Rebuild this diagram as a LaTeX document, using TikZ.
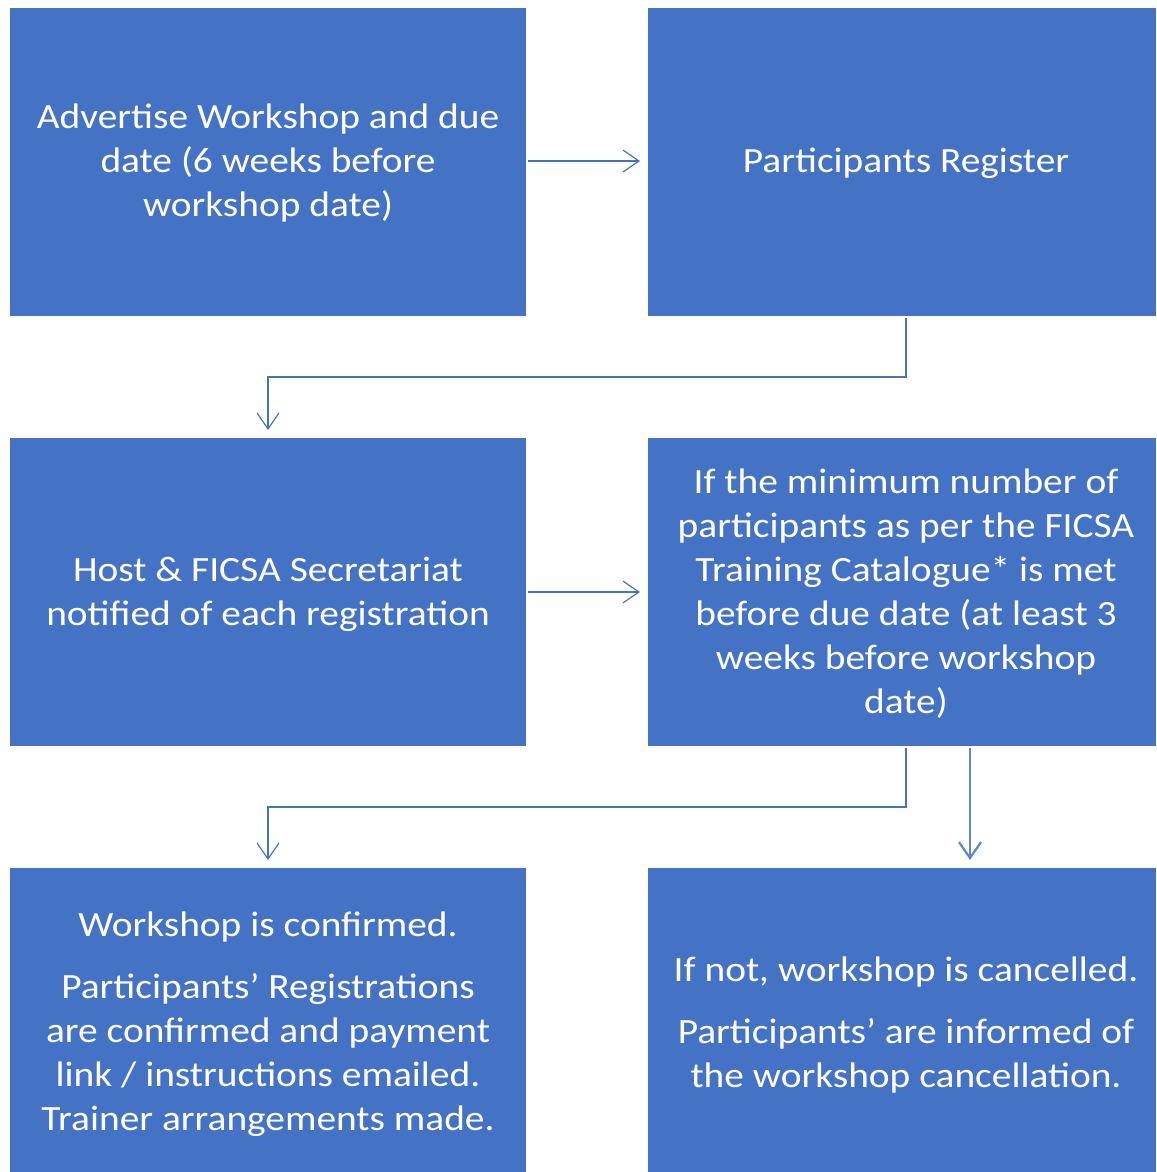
\documentclass[tikz,border=0pt]{standalone}
\usepackage{fontspec}
\setmainfont{Carlito}[FakeStretch=1.11]
\usetikzlibrary{arrows.meta}
\definecolor{boxblue}{HTML}{4472C4}
\tikzset{
  flowbox/.style={fill=boxblue, draw=none, text=white, align=center,
    font=\fontsize{35.5}{44}\selectfont, inner sep=0pt},
  link/.style={draw=boxblue, line width=1.2pt,
    -{Straight Barb[length=16pt,width=22pt,line width=1.2pt]}},
  thicklink/.style={draw=boxblue!85, line width=2.2pt,
    -{Straight Barb[length=16pt,width=22pt,line width=2.2pt]}},
}
\begin{document}
\begin{tikzpicture}[x=1pt,y=-1pt]
\useasboundingbox (0,0) rectangle (1156,1172);
% boxes
\fill[boxblue] (10,8) rectangle (526,316);
\node[flowbox] (b1) at (268,163) {Advertise Workshop and due\\date (6 weeks before\\workshop date)};
\fill[boxblue] (648,8) rectangle (1156,316);
\node[flowbox] (b2) at (906,163) {Participants Register};
\fill[boxblue] (10,438) rectangle (526,746);
\node[flowbox] (b3) at (268,594) {Host \& FICSA Secretariat\\notified of each registration};
\fill[boxblue] (648,438) rectangle (1156,746);
\node[flowbox] (b4) at (906,594) {If the minimum number of\\participants as per the FICSA\\Training Catalogue* is met\\before due date (at least 3\\weeks before workshop\\date)};
\fill[boxblue] (10,868) rectangle (526,1172);
\node[flowbox] (b5) at (268,1024) {Workshop is confirmed.\\[18pt]Participants' Registrations\\are confirmed and payment\\link / instructions emailed.\\Trainer arrangements made.};
\fill[boxblue] (648,868) rectangle (1156,1172);
\node[flowbox] (b6) at (906,1025) {If not, workshop is cancelled.\\[18pt]Participants' are informed of\\the workshop cancellation.};
% anchors
\coordinate (a1s) at (528,161);
\coordinate (a1e) at (640,161);
\coordinate (a2s) at (906,318);
\coordinate (a2e) at (268,430);
\coordinate (a3s) at (528,592);
\coordinate (a3e) at (640,592);
\coordinate (a4s) at (906,748);
\coordinate (a4e) at (268,860);
\coordinate (a5s) at (970,748);
\coordinate (a5e) at (970,860);
% connectors
\draw[link] (a1s) -- (a1e);
\draw[link] (a2s) -- (906,377) -- (268,377) -- (a2e);
\draw[link] (a3s) -- (a3e);
\draw[link] (a4s) -- (906,807) -- (268,807) -- (a4e);
\draw[thicklink] (a5s) -- (a5e);
\end{tikzpicture}
\end{document}
